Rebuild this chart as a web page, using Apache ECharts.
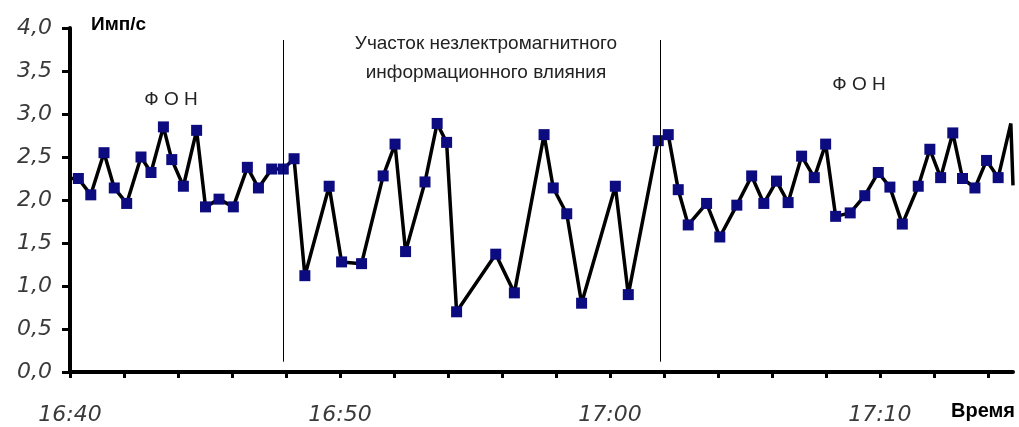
<!DOCTYPE html>
<html>
<head>
<meta charset="utf-8">
<script src="https://cdn.jsdelivr.net/npm/echarts@6/dist/echarts.min.js"></script>
<style>
  html, body { margin: 0; padding: 0; background: #fff; }
  #chart { width: 1019px; height: 427px; }
</style>
</head>
<body>
<div id="chart"></div>
<script>
// Minutes after 16:40 for each reading
const minutes = [0.00, 0.31, 0.77, 1.26, 1.64, 2.10, 2.63, 3.00, 3.46, 3.77, 4.20,
  4.69, 5.02, 5.52, 6.05, 6.57, 6.98, 7.47, 7.90, 8.30, 8.70,
  9.60, 10.06, 10.80, 11.60, 12.04, 12.43, 13.15, 13.60, 13.95, 14.32,
  15.77, 16.46, 17.56, 17.90, 18.40, 18.95, 20.20, 20.68, 21.79, 22.16,
  22.53, 22.90, 23.58, 24.07, 24.70, 25.25, 25.70, 26.17, 26.60, 27.10,
  27.57, 27.99, 28.36, 28.90, 29.44, 29.94, 30.37, 30.83, 31.42, 31.85,
  32.25, 32.70, 33.06, 33.52, 33.95, 34.38, 34.85, 34.93];

// Count rate, pulses per second
const counts = [2.25, 2.25, 2.06, 2.55, 2.14, 1.96, 2.50, 2.32, 2.85, 2.47, 2.16,
  2.81, 1.92, 2.01, 1.92, 2.38, 2.14, 2.36, 2.36, 2.48, 1.12,
  2.16, 1.28, 1.26, 2.28, 2.65, 1.40, 2.21, 2.89, 2.67, 0.70,
  1.37, 0.92, 2.76, 2.14, 1.84, 0.80, 2.16, 0.90, 2.69, 2.76,
  2.12, 1.71, 1.96, 1.57, 1.94, 2.28, 1.96, 2.22, 1.97, 2.51,
  2.26, 2.65, 1.81, 1.85, 2.05, 2.32, 2.15, 1.72, 2.16, 2.59,
  2.26, 2.78, 2.25, 2.14, 2.46, 2.26, 2.89, 2.17];

// Readings drawn as line only (cut by the plot edges)
const edgeReadings = [0, 67, 68];

// Boundaries of the exposure interval, minutes after 16:40
const exposureBounds = [7.89, 21.85];

const yTicks = { min: 0, max: 4, step: 0.5 };
const xSpan = { min: 0, max: 34.93, step: 2, labelEvery: 10 };
const startHour = 16, startMinute = 40;

const lineData = minutes.map((m, i) => {
  const item = { value: [m, counts[i]] };
  if (edgeReadings.includes(i)) item.symbol = 'none';
  return item;
});

function clock(m) {
  const total = startHour * 60 + startMinute + Math.round(m);
  const h = Math.floor(total / 60), mm = total % 60;
  return h + ':' + String(mm).padStart(2, '0');
}

const labelFont = {
  fontFamily: 'DejaVu Sans',
  fontStyle: 'italic',
  fontWeight: 200,
  fontSize: 22,
  color: '#3a3a3a'
};

const chart = echarts.init(document.getElementById('chart'), null, { renderer: 'canvas' });

chart.setOption({
  animation: false,
  backgroundColor: '#fff',
  grid: { left: 70, right: 6, top: 28, bottom: 55, containLabel: false },
  xAxis: {
    type: 'value',
    min: xSpan.min,
    max: xSpan.max,
    interval: xSpan.step,
    splitLine: { show: false },
    axisLine: { show: true, onZero: false, lineStyle: { color: '#000', width: 4 } },
    axisTick: { show: true, length: 6, inside: false, lineStyle: { color: '#000', width: 3 } },
    axisLabel: Object.assign({
      margin: 32,
      showMaxLabel: false,
      formatter: v => (Math.abs(v % xSpan.labelEvery) < 1e-6 ? clock(v) : '')
    }, labelFont)
  },
  yAxis: {
    type: 'value',
    min: yTicks.min,
    max: yTicks.max,
    interval: yTicks.step,
    splitLine: { show: false },
    axisLine: { show: true, lineStyle: { color: '#000', width: 4 } },
    axisTick: { show: true, length: 8, lineStyle: { color: '#000', width: 3 } },
    axisLabel: Object.assign({
      margin: 18,
      formatter: v => v.toFixed(1).replace('.', ',')
    }, labelFont)
  },
  series: [{
    type: 'line',
    data: lineData,
    clip: true,
    symbol: 'rect',
    symbolSize: 11,
    lineStyle: { color: '#000', width: 3.5 },
    itemStyle: { color: '#0c0c80', borderWidth: 0 },
    z: 3,
    markLine: {
      silent: true,
      symbol: 'none',
      label: { show: false },
      lineStyle: { color: '#000', width: 1, type: 'solid' },
      data: exposureBounds.map(t => [
        { coord: [t, 0.12] },
        { coord: [t, 3.86] }
      ])
    }
  }],
  graphic: [
    { type: 'text', left: 91, top: 15,
      style: { text: 'Имп/с', font: 'bold 19px "Liberation Sans"', fill: '#000' } },
    { type: 'text', left: 951, top: 401,
      style: { text: 'Время', font: 'bold 20px "Liberation Sans"', fill: '#000' } },
    { type: 'text', x: 171, y: 100,
      style: { text: 'Ф О Н', font: '19px "Liberation Sans"', fill: '#222',
               align: 'center', verticalAlign: 'middle' } },
    { type: 'text', x: 859, y: 85,
      style: { text: 'Ф О Н', font: '19px "Liberation Sans"', fill: '#222',
               align: 'center', verticalAlign: 'middle' } },
    { type: 'text', x: 486, y: 58,
      style: { text: 'Участок незлектромагнитного\nинформационного влияния',
               font: '19px "Liberation Sans"', lineHeight: 29, fill: '#222',
               align: 'center', verticalAlign: 'middle' } }
  ]
});
</script>
</body>
</html>
